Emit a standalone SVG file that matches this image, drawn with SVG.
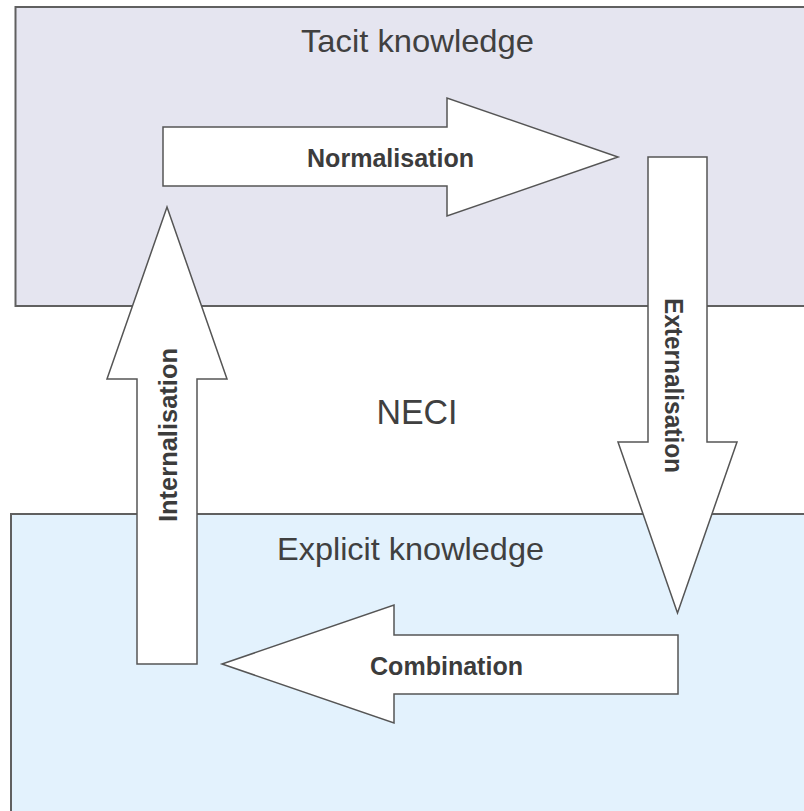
<svg xmlns="http://www.w3.org/2000/svg" width="804" height="811" viewBox="0 0 804 811">
  <style>
    .region { stroke: #606060; stroke-width: 2; }
    .tacit { fill: #e5e5f0; }
    .explicit { fill: #e3f2fd; }
    .title { font-family: "Liberation Sans", Arial, sans-serif; font-size: 32px; fill: #404040; text-anchor: middle; }
    .neci { font-family: "Liberation Sans", Arial, sans-serif; font-size: 35px; fill: #404040; text-anchor: middle; }
    .arrow { fill: #ffffff; stroke: #555555; stroke-width: 1.5; stroke-linejoin: miter; }
    .lbl { font-family: "Liberation Sans", Arial, sans-serif; font-size: 25px; font-weight: bold; fill: #3c3c3c; text-anchor: middle; }
  </style>
  <rect x="0" y="0" width="804" height="811" fill="#ffffff"/>
  <g id="tacit-knowledge">
    <rect class="region tacit" x="15.5" y="7" width="800" height="299"/>
    <text class="title" x="417.5" y="52" textLength="233" lengthAdjust="spacingAndGlyphs">Tacit knowledge</text>
  </g>
  <g id="explicit-knowledge">
    <rect class="region explicit" x="11" y="514" width="805" height="310"/>
    <text class="title" x="410.5" y="560" textLength="267" lengthAdjust="spacingAndGlyphs">Explicit knowledge</text>
  </g>
  <g id="neci">
    <text class="neci" x="417" y="424" textLength="81" lengthAdjust="spacingAndGlyphs">NECI</text>
  </g>
  <g id="connectors">
    <g id="normalisation">
      <polygon class="arrow" points="163,127 447,127 447,98 618,157 447,216 447,186 163,186"/>
      <text class="lbl" x="390.5" y="167" textLength="167" lengthAdjust="spacingAndGlyphs">Normalisation</text>
    </g>
    <g id="externalisation">
      <polygon class="arrow" points="648,157 707,157 707,442 737,442 677.5,613 618,442 648,442"/>
      <text class="lbl" transform="translate(665,385.5) rotate(90)" x="0" y="0" textLength="175" lengthAdjust="spacingAndGlyphs">Externalisation</text>
    </g>
    <g id="combination">
      <polygon class="arrow" points="678,635 394,635 394,605 222,664 394,723 394,694 678,694"/>
      <text class="lbl" x="446.5" y="675" textLength="153" lengthAdjust="spacingAndGlyphs">Combination</text>
    </g>
    <g id="internalisation">
      <polygon class="arrow" points="197,664 197,379 227,379 167,207 107,379 137,379 137,664"/>
      <text class="lbl" transform="translate(177,435) rotate(-90)" x="0" y="0" textLength="174" lengthAdjust="spacingAndGlyphs">Internalisation</text>
    </g>
  </g>
</svg>
